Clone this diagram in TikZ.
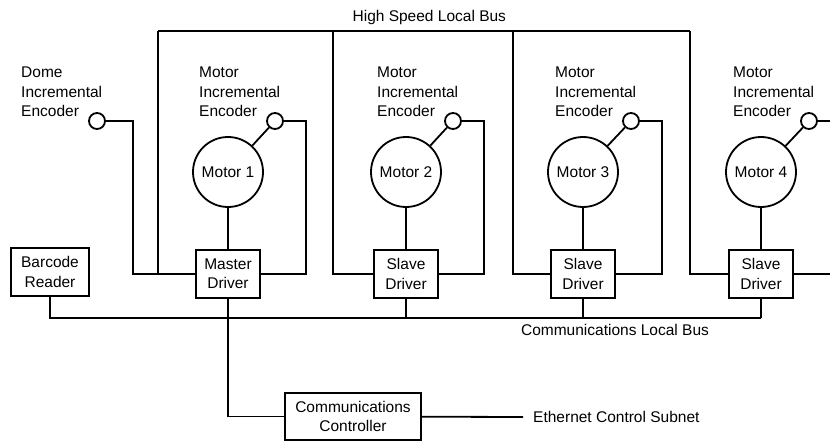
\documentclass[tikz,border=0pt]{standalone}
\usepackage{fontspec}
\setmainfont{Liberation Sans}
\usetikzlibrary{positioning}
\begin{document}
\begin{tikzpicture}[x=1pt, y=-1pt, font=\fontsize{15.5}{19.5}\selectfont]
\tikzstyle{wire} = [line width = 1.8pt, color = black] % standard connecting line
\tikzstyle{block} = [draw, wire, rectangle, minimum height = 48pt, minimum width = 64pt, inner sep = 2pt, align = center] % standard box
\tikzstyle{motor} = [draw, wire, shape = circle, minimum size = 70pt, inner sep = 0pt] % motor circle
\tikzstyle{enc} = [draw, wire, shape = circle, minimum size = 16pt, inner sep = 0pt] % small encoder circle
\tikzstyle{enctext} = [anchor = north west, align = left, inner sep = 0pt] % encoder caption
\useasboundingbox (0,0) rectangle (830,441);
% motors with their drivers below
\node(motor1)[motor] at (228,172){Motor 1};
\node(motor2)[motor] at (406,172){Motor 2};
\node(motor3)[motor] at (583,172){Motor 3};
\node(motor4)[motor] at (761,172){Motor 4};
\node(master)[block, below = 41pt of motor1]{Master\\Driver};
\node(slave2)[block, below = 41pt of motor2]{Slave\\Driver};
\node(slave3)[block, below = 41pt of motor3]{Slave\\Driver};
\node(slave4)[block, below = 41pt of motor4]{Slave\\Driver};
% encoders and their captions
\node(domeenc)[enc] at (97,121){};
\node(enc1)[enc] at (275,121){};
\node(enc2)[enc] at (453,121){};
\node(enc3)[enc] at (631,121){};
\node(enc4)[enc] at (809,121){};
\node(dometext)[enctext] at (21,67){Dome\\Incremental\\Encoder};
\node(enctext1)[enctext] at (199,67){Motor\\Incremental\\Encoder};
\node(enctext2)[enctext] at (377,67){Motor\\Incremental\\Encoder};
\node(enctext3)[enctext] at (555,67){Motor\\Incremental\\Encoder};
\node(enctext4)[enctext] at (733,67){Motor\\Incremental\\Encoder};
\draw[wire](motor1)--(enc1); \draw[wire](motor2)--(enc2); \draw[wire](motor3)--(enc3); \draw[wire](motor4)--(enc4);
\draw[wire](motor1)--(master); \draw[wire](motor2)--(slave2); \draw[wire](motor3)--(slave3); \draw[wire](motor4)--(slave4);
\draw[wire](enc1)--++(31,0)|-(master); % encoder feedback into driver
\draw[wire](enc2)--++(31,0)|-(slave2);
\draw[wire](enc3)--++(31,0)|-(slave3);
\draw[wire](enc4)--++(31,0)|-(slave4);
\draw[wire](domeenc)--++(36,0)|-(master);
% high speed local bus
\coordinate(hs1) at (158,31);
\coordinate(hs2) at (333,31);
\coordinate(hs3) at (513,31);
\coordinate(hs4) at (690,31);
\draw[wire](hs1)--(hs4)node[pos = 0.51, above = 3pt, inner sep = 2pt]{High Speed Local Bus};
\draw[wire](master)-|(hs1); \draw[wire](slave2)-|(hs2); \draw[wire](slave3)-|(hs3); \draw[wire](slave4)-|(hs4);
% communications local bus
\node(barcode)[block, minimum width = 78pt] at (50,272){Barcode\\Reader};
\coordinate(cbend) at (761,318);
\draw[wire](barcode)|-(cbend);
\draw[wire](slave2)--(slave2 |- cbend); \draw[wire](slave3)--(slave3 |- cbend); \draw[wire](slave4)--(cbend);
\node(cbtext) at (615,329.5){Communications Local Bus};
% controller and ethernet
\node(comctrl)[block, minimum width = 136pt, minimum height = 47pt] at (353,416.5){Communications\\Controller};
\draw[wire](master)|-(comctrl);
\node(ethtext)[anchor = west, inner sep = 0pt] at (533,417){Ethernet Control Subnet};
\draw[wire](comctrl)--([xshift = -10pt]ethtext.west);
\end{tikzpicture}
\end{document}
